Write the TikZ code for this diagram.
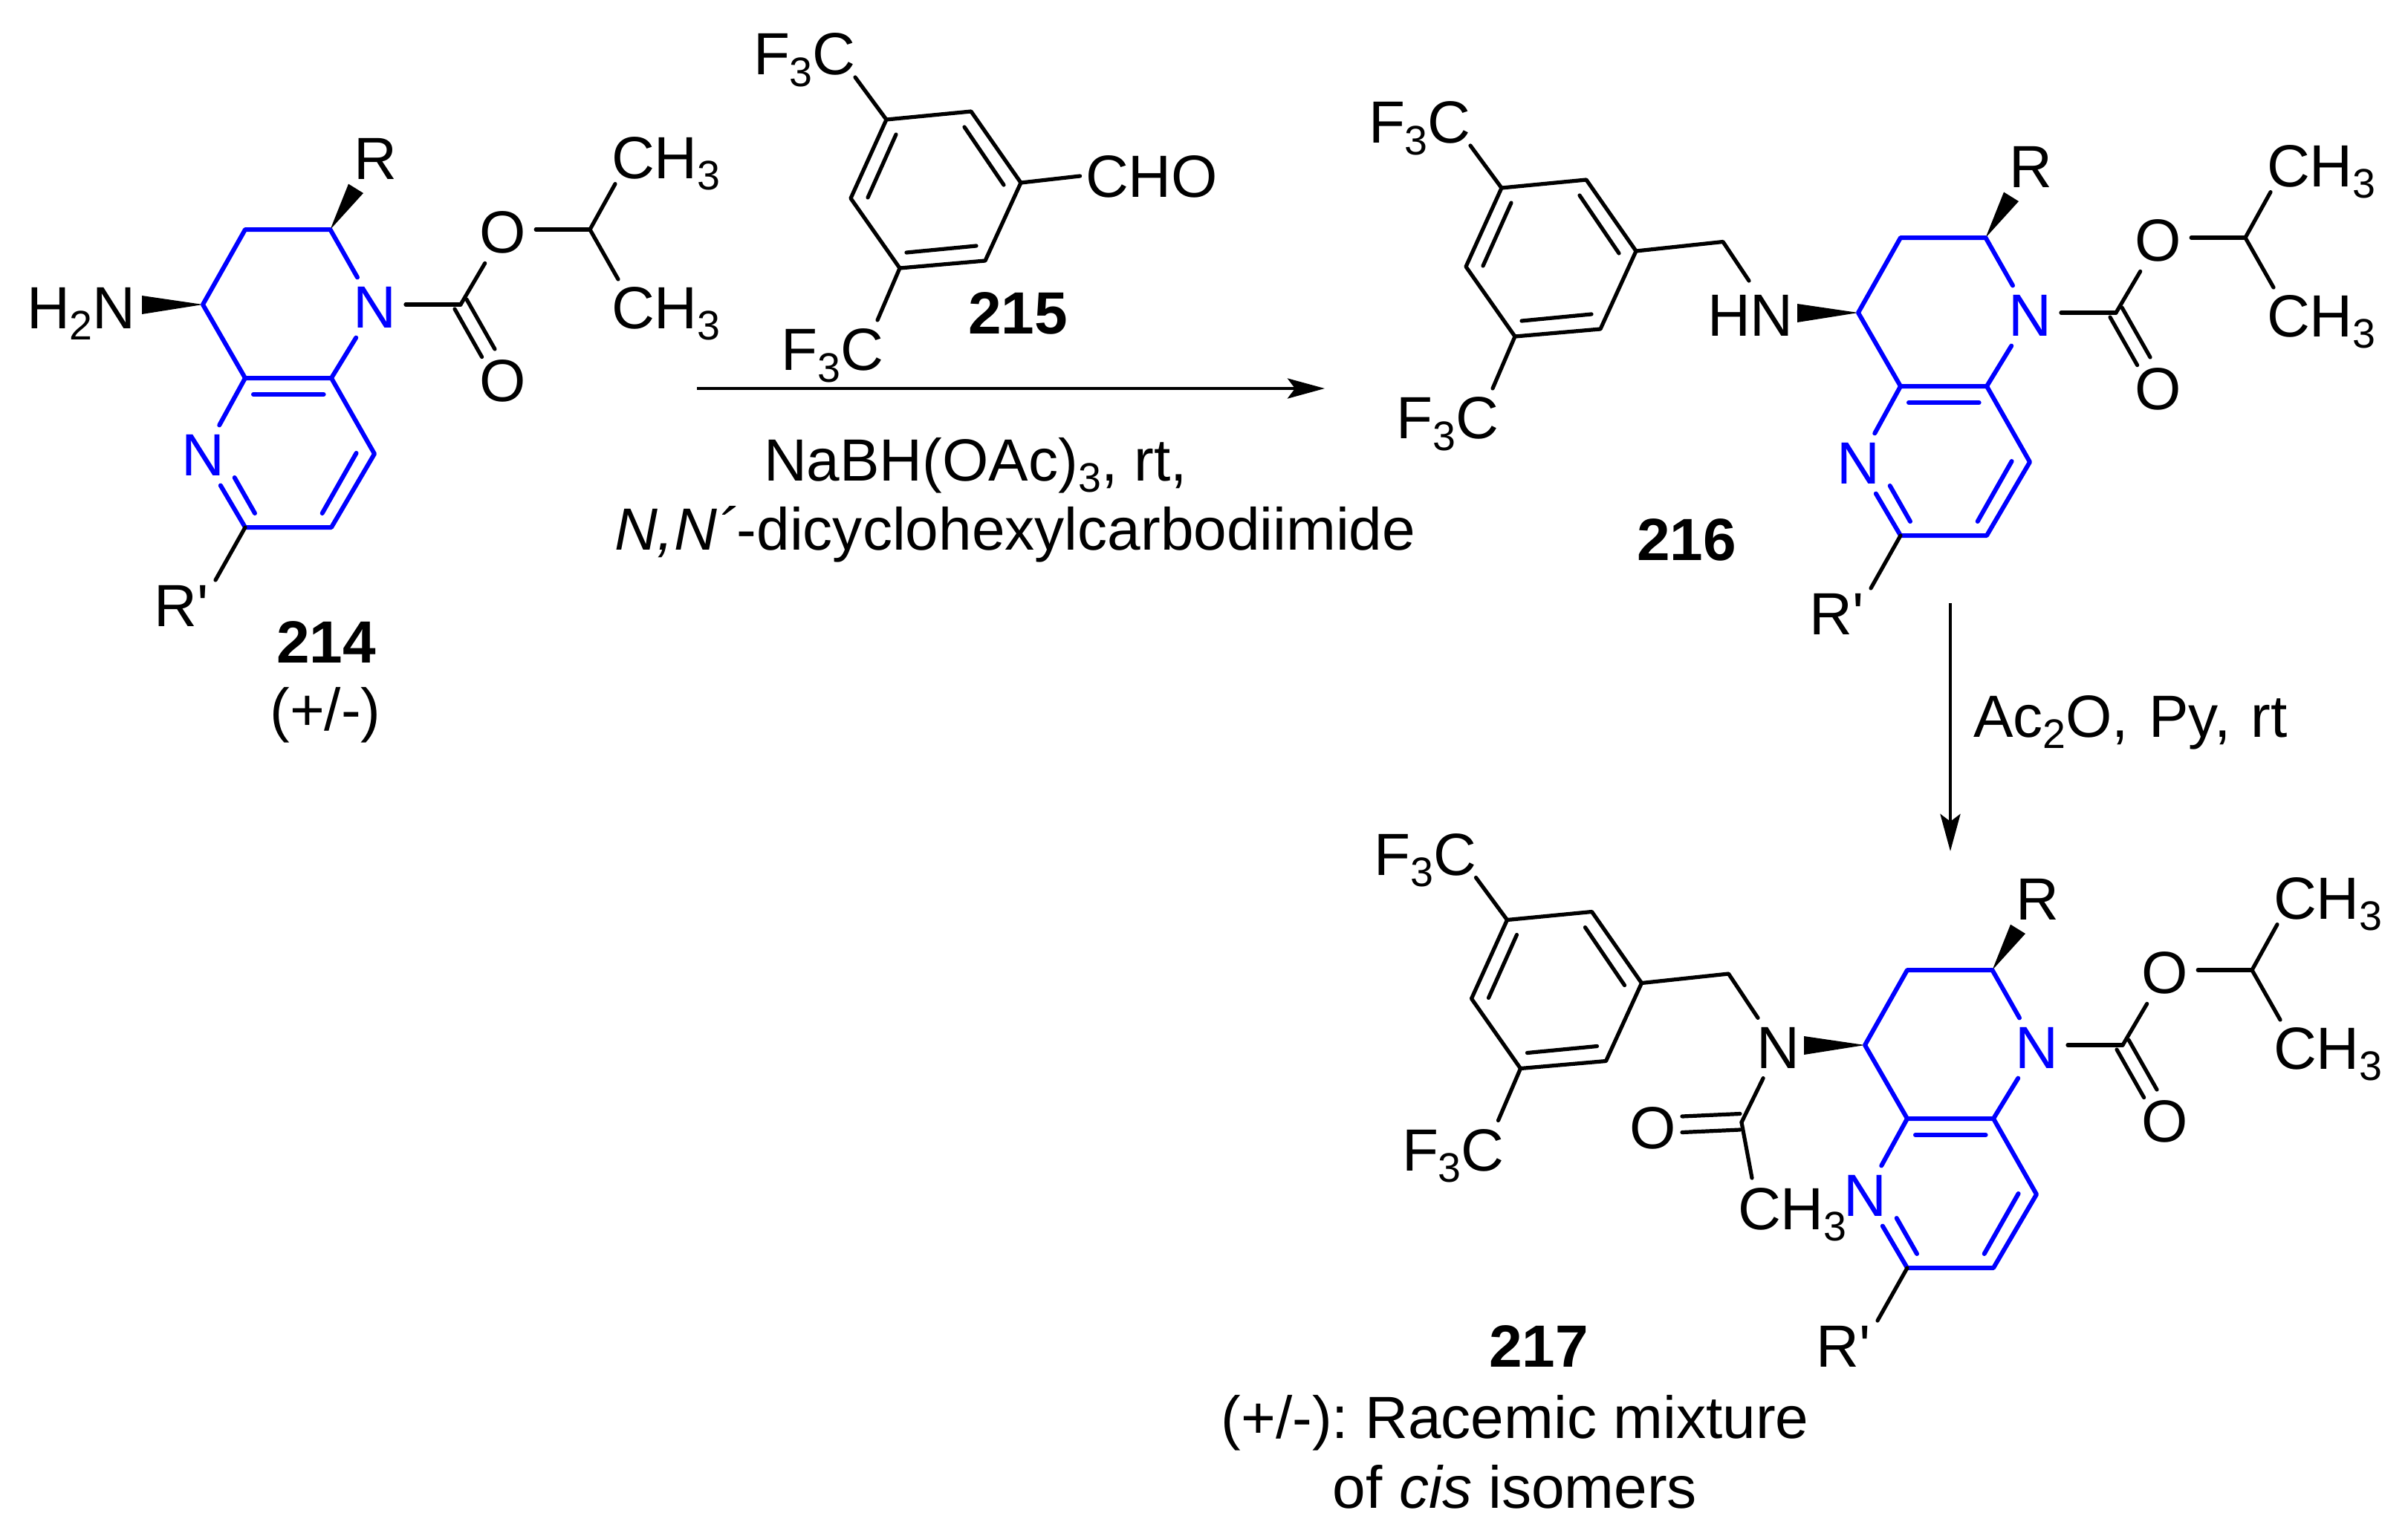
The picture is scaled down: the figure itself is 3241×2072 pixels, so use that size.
\documentclass[tikz,border=0pt]{standalone}
\usepackage{fontspec}
\usetikzlibrary{arrows.meta}
\setmainfont{Liberation Sans}
\newfontfamily\chemfont{Liberation Sans}
\definecolor{ringblue}{RGB}{0,0,255}
\newcommand\sbs[1]{\raisebox{-4.5pt}{\fontsize{15.8}{16}\selectfont #1}}
\tikzset{
  lab/.style={font=\chemfont\fontsize{22.8}{27}\selectfont, inner sep=0pt, outer sep=0pt, text=black},
  num/.style={font=\chemfont\bfseries\fontsize{22.8}{27}\selectfont, inner sep=0pt, outer sep=0pt, text=black},
  atom/.style={lab, inner sep=0.13cm, anchor=center},
  bluatom/.style={atom, text=ringblue},
  bond/.style={draw=black, line width=0.052cm, line cap=round, line join=round},
  blubond/.style={draw=ringblue, line width=0.06cm, line cap=round, line join=round},
  wedge/.style={fill=black, draw=none},
  rxn/.style={draw=black, line width=0.045cm, -{Stealth[length=0.5cm,width=0.27cm,inset=0.1cm]}}
}
% bicyclic core with carbamate; coordinates of compound 214, moved by the shift
\newcommand\core[3]{%
\begin{scope}[shift={(#1,#2)}, name prefix=#3-]
  \coordinate (a) at (444.5,309);
  \coordinate (b) at (330,309);
  \coordinate (c) at (273,410);
  \coordinate (d) at (330,509);
  \coordinate (e) at (446,509);
  \coordinate (f) at (504,611);
  \coordinate (g) at (446,710);
  \coordinate (h) at (330,710);
  \coordinate (co) at (620,410);
  \coordinate (ip) at (794,309);
  \node[bluatom] (n1) at (504,414) {N};
  \node[bluatom] (n2) at (273,613) {N};
  \node[atom] (ou) at (677,313) {O};
  \node[atom] (ol) at (677,513) {O};
  \node[lab, anchor=base west] (me1) at (823,240) {CH\sbs{3}};
  \node[lab, anchor=base west] (me2) at (823,442) {CH\sbs{3}};
  \node[atom] (r) at (505,214) {R};
  \node[lab, anchor=base west] (rp) at (207.6,843) {R'};
  \coordinate (wa) at (469,247.6);
  \coordinate (wb) at (489,260);
  \coordinate (wc) at (191,398);
  \coordinate (wd) at (191,423);
  \coordinate (i1) at (341,531);
  \coordinate (i2) at (435.6,531);
  \coordinate (i3) at (479.6,610);
  \coordinate (i4) at (433.7,691);
  \coordinate (i5) at (315.7,643);
  \coordinate (i6) at (343,691);
  \coordinate (co1) at (612,416);
  \coordinate (co2) at (648.6,480.6);
  \coordinate (co3) at (628,403);
  \coordinate (co4) at (666,470);
  \coordinate (m1e) at (828,247.6);
  \coordinate (m2e) at (832,376);
  \coordinate (rpe) at (290,781);
  \fill[wedge] (a) -- (wa) -- (wb) -- cycle;
  \fill[wedge] (c) -- (wc) -- (wd) -- cycle;
  \draw[blubond] (n1) -- (a) -- (b) -- (c) -- (d) -- (e) -- (n1);
  \draw[blubond] (n2) -- (d);
  \draw[blubond] (e) -- (f) -- (g) -- (h) -- (n2);
  \draw[blubond] (i1) -- (i2);
  \draw[blubond] (i3) -- (i4);
  \draw[blubond] (i5) -- (i6);
  \draw[bond] (h) -- (rpe);
  \draw[bond] (co -| n1.east) -- (co);
  \draw[bond] (co) -- (ou);
  \draw[bond] (co1) -- (co2);
  \draw[bond] (co3) -- (co4);
  \draw[bond] (ip -| ou.east) -- (ip);
  \draw[bond] (ip) -- (m1e);
  \draw[bond] (ip) -- (m2e);
\end{scope}}
% bis(trifluoromethyl)phenyl ring; coordinates of compound 216, moved by the shift
\newcommand\bisring[3]{%
\begin{scope}[shift={(#1,#2)}, name prefix=#3-]
  \coordinate (p1) at (2021,253);
  \coordinate (p2) at (2135,242);
  \coordinate (p3) at (2202,338);
  \coordinate (p4) at (2154,443);
  \coordinate (p5) at (2039,453);
  \coordinate (p6) at (1973,359);
  \coordinate (j1) at (2034,273);
  \coordinate (j2) at (1996,358);
  \coordinate (j3) at (2126,263);
  \coordinate (j4) at (2179,341);
  \coordinate (j5) at (2142,423);
  \coordinate (j6) at (2048,432);
  \coordinate (fe1) at (1979,196);
  \coordinate (fe2) at (2009,523);
  \node[lab, anchor=base west] (f1) at (1842,192.5) {F\sbs{3}C};
  \node[lab, anchor=base west] (f2) at (1879.5,590.5) {F\sbs{3}C};
  \draw[bond] (p1) -- (p2) -- (p3) -- (p4) -- (p5) -- (p6) -- cycle;
  \draw[bond] (j1) -- (j2);
  \draw[bond] (j3) -- (j4);
  \draw[bond] (j5) -- (j6);
  \draw[bond] (p1) -- (fe1);
  \draw[bond] (p5) -- (fe2);
\end{scope}}
\begin{document}
\begin{tikzpicture}[x=0.01cm,y=-0.01cm]
  \path[use as bounding box, fill=white] (0,0) rectangle (3241,2072);
  % 214
  \core{0}{0}{A}
  \node[lab, anchor=base west] (h2n) at (36,442) {H\sbs{2}N};
  \node[num, anchor=base] (l214) at (439,892) {214};
  \node[lab, anchor=base] (pm214) at (438,983) {(+/-)};
  % 215
  \bisring{-828}{-92}{B}
  \coordinate (choe) at (1453.6,237);
  \node[lab, anchor=base west] (cho) at (1461,265.5) {CHO};
  \draw[bond] (B-p3) -- (choe);
  \node[num, anchor=base] (l215) at (1370,449) {215};
  % reaction 1
  \coordinate (r1s) at (938,523);
  \coordinate (r1e) at (1783,523);
  \draw[rxn] (r1s) -- (r1e);
  \node[lab, anchor=base west] (c1) at (1028,647) {NaBH(OAc)\sbs{3}, rt,};
  \node[lab, anchor=base west] (c2) at (827,740) {\itshape N,N´\upshape-dicyclohexylcarbodiimide};
  % 216
  \core{2228}{11}{C}
  \bisring{0}{0}{D}
  \coordinate (ch2a) at (2319,325.5);
  \coordinate (hne) at (2354,378);
  \node[lab, anchor=base west] (hn) at (2298,452.5) {HN};
  \draw[bond] (D-p3) -- (ch2a) -- (hne);
  \node[num, anchor=base] (l216) at (2270,754) {216};
  % reaction 2
  \coordinate (r2s) at (2625,812);
  \coordinate (r2e) at (2625,1146);
  \draw[rxn] (r2s) -- (r2e);
  \node[lab, anchor=base west] (c3) at (2656,992) {Ac\sbs{2}O,\hspace{1.4pt} Py,\hspace{1.4pt} rt};
  % 217
  \core{2237}{997}{E}
  \bisring{7.5}{985.5}{F}
  \coordinate (ch2b) at (2326.5,1311);
  \coordinate (cam) at (2344,1511);
  \coordinate (q1) at (2264,1503);
  \coordinate (q2) at (2342,1499.5);
  \coordinate (q3) at (2264,1524.5);
  \coordinate (q4) at (2342,1521);
  \coordinate (q5) at (2358,1586);
  \node[atom] (nam) at (2393,1411) {N};
  \node[atom] (oam) at (2225,1519) {O};
  \node[lab, anchor=base west] (ch3) at (2339,1655) {CH\sbs{3}};
  \draw[bond] (F-p3) -- (ch2b) -- (nam);
  \draw[bond] (nam) -- (cam);
  \draw[bond] (q1) -- (q2);
  \draw[bond] (q3) -- (q4);
  \draw[bond] (cam) -- (q5);
  \node[num, anchor=base] (l217) at (2071,1840) {217};
  \node[lab, anchor=base] (t1) at (2039,1936) {\frenchspacing (+/-): Racemic mixture};
  \node[lab, anchor=base] (t2) at (2039,2030) {of \itshape cis\upshape\ isomers};
\end{tikzpicture}
\end{document}
